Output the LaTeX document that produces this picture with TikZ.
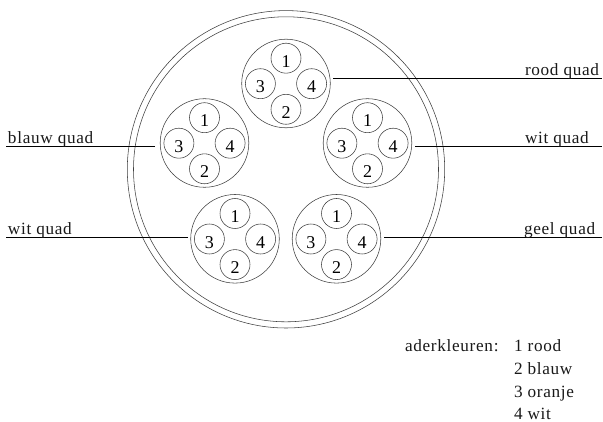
\documentclass[tikz,border=0pt]{standalone}
\usepackage{fontspec}
\setmainfont{Liberation Serif}
\newfontfamily\spaced[LetterSpace=4]{Liberation Serif}
\tikzset{
  x=1pt,y=-1pt,
  sheath/.style={circle,draw=black!75,line width=0.55pt,inner sep=0,outer sep=0},
  bundle/.style={sheath,minimum size=88.6pt},
  core/.style={sheath,minimum size=30pt,font=\fontsize{18}{18}\selectfont,execute at begin node={\rule{0pt}{18.2pt}}},
  lead/.style={line width=0.8pt,black},
  lbl/.style={inner sep=0,outer sep=0,font=\fontsize{17.2}{17.2}\spaced,text=black!90},
}
\newcommand{\quadgroup}[3]{%
  \node[bundle] (#1) at (#2,#3) {};
  \node[core] (#1c1) at (#2,#3-25.3) {1};
  \node[core] (#1c2) at (#2,#3+25.8) {2};
  \node[core] (#1c3) at (#2-25.6,#3+0.2) {3};
  \node[core] (#1c4) at (#2+25.6,#3+0.2) {4};
}
\begin{document}
\begin{tikzpicture}
\useasboundingbox (0,0) rectangle (603,422);
\fill[white] (0,0) rectangle (603,422);
\node[sheath,minimum size=317.4pt] (outer) at (286,169.3) {};
\node[sheath,minimum size=305pt] (inner) at (286,169.3) {};
\quadgroup{qtop}{286}{83.5}
\quadgroup{qul}{204.5}{143}
\quadgroup{qur}{367.5}{143}
\quadgroup{qll}{235}{238.8}
\quadgroup{qlr}{336.5}{238.8}
\coordinate (ta) at (333.3,78.3);
\coordinate (tb) at (602,78.3);
\coordinate (ula) at (155,146.7);
\coordinate (ulb) at (6,146.7);
\coordinate (ura) at (415.3,146.7);
\coordinate (urb) at (602,146.7);
\coordinate (lla) at (188,237.7);
\coordinate (llb) at (6,237.7);
\coordinate (lra) at (384,237.7);
\coordinate (lrb) at (602,237.7);
\draw[lead] (ta) -- (tb);
\draw[lead] (ula) -- (ulb);
\draw[lead] (ura) -- (urb);
\draw[lead] (lla) -- (llb);
\draw[lead] (lra) -- (lrb);
\node[lbl,anchor=base west] (l1) at (525,75.5) {rood quad};
\node[lbl,anchor=base west] (l2) at (8,143.5) {blauw quad};
\node[lbl,anchor=base west] (l3) at (525,143.5) {wit quad};
\node[lbl,anchor=base west] (l4) at (8,235) {wit quad};
\node[lbl,anchor=base west] (l5) at (524,235) {geel quad};
\node[lbl,anchor=base west] (k0) at (405,351.7) {aderkleuren:};
\node[lbl,anchor=base west] (k1) at (514,351.7) {1 rood};
\node[lbl,anchor=base west] (k2) at (514,374.5) {2 blauw};
\node[lbl,anchor=base west] (k3) at (514,397) {3 oranje};
\node[lbl,anchor=base west] (k4) at (514,419.5) {4 wit};
\end{tikzpicture}
\end{document}
